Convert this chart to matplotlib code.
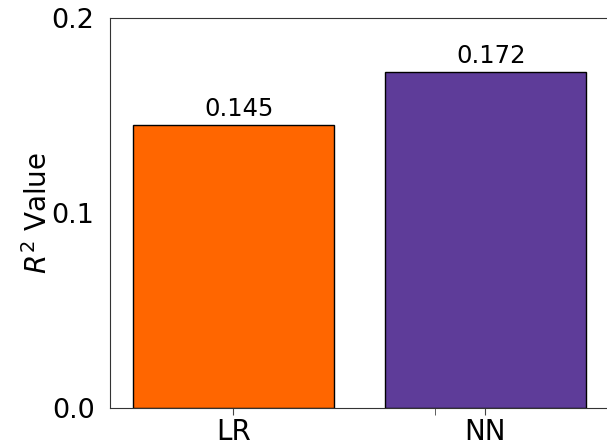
import numpy as np
import matplotlib.pyplot as plt

models = ['LR', 'NN']
r2 = [0.145, 0.172]
colors = ['#FF6600', '#5E3C99']

fig = plt.figure(figsize=(6.07, 4.45), dpi=100)
ax = fig.add_axes([0.181, 0.083, 0.822, 0.877])

bars = ax.bar(models, r2, color=colors, edgecolor='black', linewidth=1, width=0.8)
for b, v in zip(bars, r2):
    ax.annotate(f'{v:.3f}', (b.get_x() + b.get_width() / 2, v),
                xytext=(4, 3), textcoords='offset points',
                ha='center', va='bottom', fontsize=17.5)

ax.set_ylim(0, 0.2)
ax.set_yticks([0.0, 0.1, 0.2])
ax.set_yticklabels(['0.0', '0.1', '0.2'])
ax.set_ylabel('$R^2$ Value', fontsize=20, labelpad=-1)
ax.tick_params(axis='y', labelsize=19.5, length=0, pad=11)
ax.tick_params(axis='x', labelsize=20, length=5, color='#444444', pad=2)
ax.set_xticks([0.8], minor=True)
ax.tick_params(axis='x', which='minor', length=5, color='#444444')
for s in ax.spines.values():
    s.set_color('#333333')

fig.savefig('out.png', dpi=100)
